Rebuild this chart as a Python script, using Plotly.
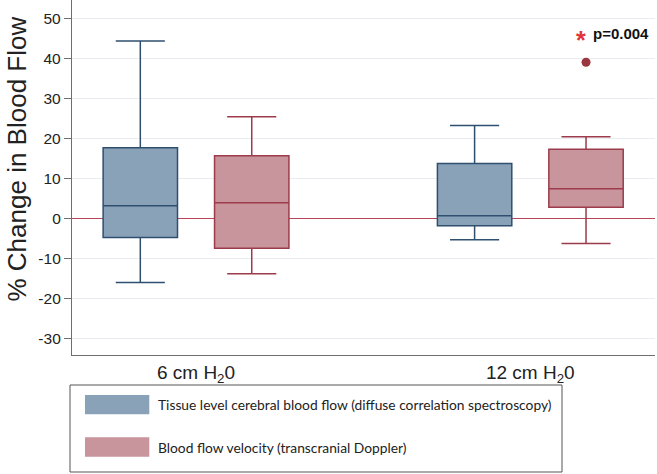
import plotly.graph_objects as go

# ---- data ----
groups = ["6 cm H<sub>2</sub>0", "12 cm H<sub>2</sub>0"]
series_names = [
    "Tissue level cerebral blood flow (diffuse correlation spectroscopy)",
    "Blood flow velocity (transcranial Doppler)",
]
dcs_lower = [-16.1, -5.4]
dcs_q1 = [-4.8, -1.9]
dcs_median = [3.1, 0.6]
dcs_q3 = [17.6, 13.7]
dcs_upper = [44.3, 23.2]

tcd_lower = [-13.9, -6.3]
tcd_q1 = [-7.5, 2.75]
tcd_median = [3.9, 7.4]
tcd_q3 = [15.6, 17.25]
tcd_upper = [25.4, 20.4]

tcd_outlier_group = [1]
tcd_outlier_values = [39.0]

y_ticks = [50, 40, 30, 20, 10, 0, -10, -20, -30]
y_tick_labels = [str(v) for v in y_ticks]
y_title = "% Change in Blood Flow"
p_label = "p=0.004"
p_value_y = 46.3

# ---- styling ----
blue_fill = "#8aa2b7"
blue_line = "#2f4f6f"
red_fill = "#c9959c"
red_line = "#9b3b4b"
zero_color = "#bb4558"
grid_color = "#e9edf1"
axis_color = "#6e6e6e"

group_pos = [1, 2]
offset = 1 / 6
box_w = 0.2225

W, H = 657, 474
ML, MR, MT, MB = 72, 2, 0, 474 - 355

fig = go.Figure()

fig.add_trace(go.Box(
    x=[g - offset for g in group_pos],
    q1=dcs_q1, median=dcs_median, q3=dcs_q3,
    lowerfence=dcs_lower, upperfence=dcs_upper,
    width=box_w, whiskerwidth=0.66,
    fillcolor=blue_fill, line=dict(color=blue_line, width=1.5),
    boxpoints=False, name=series_names[0], showlegend=False, hoverinfo="skip",
))
fig.add_trace(go.Box(
    x=[g + offset for g in group_pos],
    q1=tcd_q1, median=tcd_median, q3=tcd_q3,
    lowerfence=tcd_lower, upperfence=tcd_upper,
    width=box_w, whiskerwidth=0.66,
    fillcolor=red_fill, line=dict(color=red_line, width=1.5),
    boxpoints=False, name=series_names[1], showlegend=False, hoverinfo="skip",
))
fig.add_trace(go.Scatter(
    x=[group_pos[i] + offset for i in tcd_outlier_group],
    y=tcd_outlier_values, mode="markers",
    marker=dict(color="#9a3640", size=9),
    showlegend=False, hoverinfo="skip",
))

# significance annotation
fig.add_annotation(x=group_pos[1] + offset - 0.0157, y=p_value_y, xref="x", yref="y",
                   text="<b>*</b>", showarrow=False, xanchor="center", yanchor="middle",
                   font=dict(family="Liberation Sans", size=25, color="#e0343a"), yshift=-7)
fig.add_annotation(x=group_pos[1] + offset + 0.0146, y=p_value_y, xref="x", yref="y",
                   text="<b>" + p_label + "</b>", showarrow=False, xanchor="left", yanchor="middle",
                   font=dict(family="Liberation Sans", size=15, color="#111111"))

# positions in window pixels converted to paper fractions
plot_w = 583.0
plot_h = 355.0 - MT

def px_x(p):
    return (p - 72) / plot_w

def px_y(p):
    return (355 - p) / plot_h

# y-axis title (rotated annotation; in the reference it sits above centre)
fig.add_annotation(x=px_x(16.5), y=px_y(159), xref="paper", yref="paper",
                   text=y_title, textangle=-90, showarrow=False,
                   xanchor="center", yanchor="middle",
                   font=dict(family="Liberation Sans", size=26, color="#222222"))

# manual legend
fig.add_shape(type="rect", xref="paper", yref="paper",
              x0=px_x(70), x1=px_x(562), y0=px_y(385), y1=px_y(472),
              line=dict(color="#555555", width=1), fillcolor="white")
legend_rows = [(395, 414.3, blue_fill), (437.3, 456.7, red_fill)]
for (ya, yb, col), name in zip(legend_rows, series_names):
    fig.add_shape(type="rect", xref="paper", yref="paper",
                  x0=px_x(85), x1=px_x(149.3), y0=px_y(ya), y1=px_y(yb),
                  line=dict(width=0), fillcolor=col)
    fig.add_annotation(x=px_x(155.5), y=px_y((ya + yb) / 2), xref="paper", yref="paper",
                       text=name, showarrow=False, xanchor="left", yanchor="middle",
                       font=dict(family="Lato", size=13.8, color="#222222"))

y_top = (218.3 - MT) / 4.0

fig.update_layout(
    width=W, height=H,
    margin=dict(l=ML, r=MR, t=MT, b=MB, autoexpand=False),
    paper_bgcolor="white", plot_bgcolor="white",
    showlegend=False,
    font=dict(family="Liberation Sans", color="#222222"),
    xaxis=dict(range=[0.629, 2.373], tickvals=group_pos, ticktext=groups,
               showgrid=False, zeroline=False, showline=True, linecolor=axis_color,
               linewidth=1.3, ticks="", tickfont=dict(size=19)),
    yaxis=dict(range=[-34.2, y_top], tickvals=y_ticks, ticktext=y_tick_labels,
               showgrid=True, gridcolor=grid_color, gridwidth=1,
               zeroline=True, zerolinecolor=zero_color, zerolinewidth=1.4,
               showline=True, linecolor=axis_color, linewidth=1.3,
               ticks="outside", ticklen=7, tickcolor=axis_color,
               tickfont=dict(size=15.5)),
)

# remove the browser's default 8px page margin so the figure fills the window
fig.write_html("out.html",
               config={"displayModeBar": False},
               post_script="document.body.style.margin='0';document.body.style.overflow='hidden';")
